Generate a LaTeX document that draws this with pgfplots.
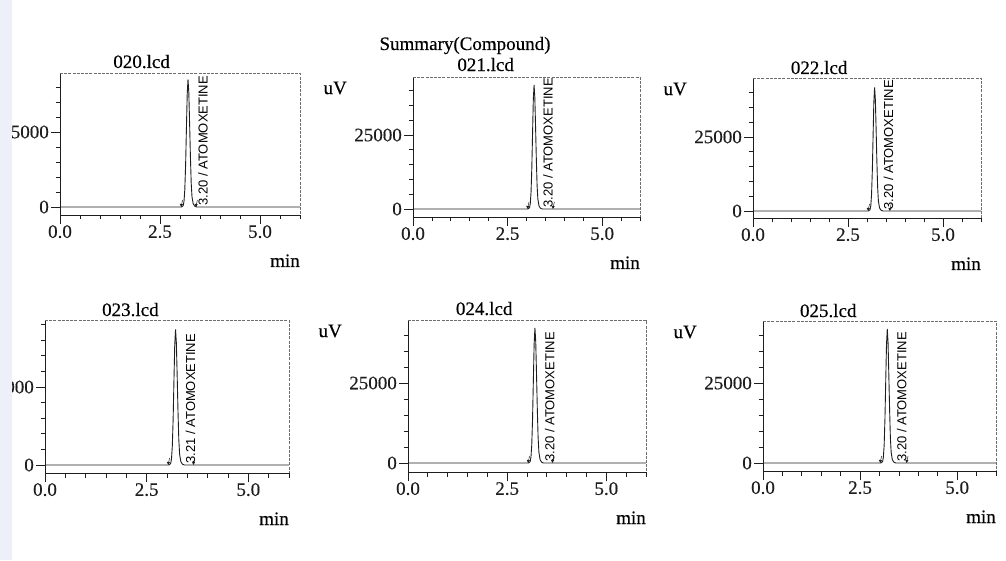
\documentclass[border=0pt]{standalone}
\usepackage{fontspec}
\setmainfont{Liberation Serif}[FakeBold=0.4]
\newfontfamily\annotfont{Liberation Sans}
\usepackage{pgfplots}
\pgfplotsset{compat=1.18}

\definecolor{scanink}{HTML}{1E1E1E}
\definecolor{framegray}{HTML}{6E6E6E}
\definecolor{sidebar}{HTML}{EDF0F8}

\newcommand\labfont{\fontsize{19}{19}\selectfont}
\newcommand\peakfont{\annotfont\fontsize{13}{13}\selectfont}

% small arrow marking the start / end of peak integration on the baseline
\pgfdeclareplotmark{peakarrow}{%
  \pgfpathmoveto{\pgfpoint{1.4pt}{7pt}}%
  \pgfpathlineto{\pgfpoint{0pt}{1pt}}%
  \pgfusepathqstroke
  \pgfpathmoveto{\pgfpoint{0pt}{0pt}}%
  \pgfpathlineto{\pgfpoint{-1.5pt}{3.2pt}}%
  \pgfpathlineto{\pgfpoint{1.7pt}{2.8pt}}%
  \pgfpathclose
  \pgfusepathqfill}

\pgfplotsset{
  every axis title shift=0pt,
  chrom/.style={
    scale only axis, anchor=south west, clip=false,
    xmin=0, xmax=6,
    scaled x ticks=false, scaled y ticks=false,
    axis x line*=bottom, axis y line*=left,
    axis line style={-, scanink, line width=0.8pt},
    tick align=outside,
    tick style={scanink, line width=0.7pt},
    major tick length=9pt, minor tick length=4.5pt,
    xtick={0,2.5,5}, xticklabels={0.0,2.5,5.0},
    minor xtick={0.5,1,1.5,2,3,3.5,4,4.5,5.5,6},
    xticklabel style={inner sep=1pt},
    yticklabel style={inner sep=2pt},
    tick label style={font=\labfont, text=scanink},
    xlabel={min},
    xlabel style={at={(rel axis cs:1,0)}, anchor=base east,
                  yshift=-52pt, inner sep=0pt, font=\labfont},
    title style={anchor=base, yshift=5pt, inner sep=0pt, font=\labfont},
  },
  small scale/.style={
    ytick={0,5000}, yticklabels={0,5000},
    minor ytick={1000,2000,3000,4000,6000,7000,8000,9000},
  },
  large scale/.style={
    ytick={0,25000}, yticklabels={0,25000},
    minor ytick={5000,10000,15000,20000,30000,35000,40000},
  },
  trace/.style={scanink, line width=0.9pt, mark=none},
  marks/.style={only marks, mark=peakarrow, scanink, line width=0.5pt},
}

% dashed top and right border of each chromatogram frame
\newcommand\frameedges{%
  \draw[framegray, dash pattern=on 3pt off 1.2pt, line width=0.6pt]
    (rel axis cs:0,1) -- (rel axis cs:1,1) -- (rel axis cs:1,0);}
\newcommand\uvlabel{%
  \node[anchor=east, font=\labfont, inner sep=0pt]
    at (rel axis cs:0,1) [xshift=-66pt, yshift=-11pt] {uV};}

\begin{document}
\begin{tikzpicture}
\path[use as bounding box] (0pt,0pt) rectangle (1006pt,560pt);

\node[anchor=base, font=\labfont, inner sep=0pt] at (465pt,510pt) {Summary(Compound)};

% ---------------- 020.lcd ----------------
\begin{axis}[chrom, small scale, at={(60pt,345pt)}, width=240pt, height=142pt,
  ymin=-533, ymax=8930, title={020.lcd},
  title style={at={(rel axis cs:0.34,1)}}]
\frameedges
\addplot[trace] coordinates {(0,0) (3.04,0) (3.08,94) (3.10,374) (3.12,1148)
  (3.14,2763) (3.16,5160) (3.18,7497) (3.20,8500) (3.22,7650) (3.24,5610)
  (3.26,3400) (3.28,1615) (3.30,680) (3.33,213) (3.37,51) (3.42,0) (6,0)};
\addplot[marks] coordinates {(3.03,0) (3.40,0)};
\node[rotate=90, anchor=base west, font=\peakfont, inner sep=0pt]
  at (axis cs:3.69,80) {3.20 / ATOMOXETINE};
\end{axis}

% ---------------- 021.lcd ----------------
\begin{axis}[chrom, large scale, at={(413pt,343pt)}, width=227pt, height=140pt,
  ymin=-2700, ymax=44600, title={021.lcd},
  title style={at={(rel axis cs:0.32,1)}, yshift=1pt}]
\frameedges
\uvlabel
\addplot[trace] coordinates {(0,0) (3.04,0) (3.08,461) (3.10,1844) (3.12,5657)
  (3.14,13618) (3.16,25433) (3.18,36956) (3.20,41900) (3.22,37710) (3.24,27654)
  (3.26,16760) (3.28,7961) (3.30,3352) (3.33,1048) (3.37,251) (3.42,0) (6,0)};
\addplot[marks] coordinates {(3.03,0) (3.70,0)};
\node[rotate=90, anchor=base west, font=\peakfont, inner sep=0pt]
  at (axis cs:3.69,350) {3.20 / ATOMOXETINE};
\end{axis}

% ---------------- 022.lcd ----------------
\begin{axis}[chrom, large scale, at={(753pt,342pt)}, width=228pt, height=140pt,
  ymin=-2360, ymax=44900, title={022.lcd},
  title style={at={(rel axis cs:0.29,1)}, yshift=-1pt}]
\frameedges
\uvlabel
\addplot[trace] coordinates {(0,0) (3.04,0) (3.08,459) (3.10,1835) (3.12,5630)
  (3.14,13553) (3.16,25312) (3.18,36779) (3.20,41700) (3.22,37530) (3.24,27522)
  (3.26,16680) (3.28,7923) (3.30,3336) (3.33,1043) (3.37,250) (3.42,0) (6,0)};
\addplot[marks] coordinates {(3.03,0) (3.60,0)};
\node[rotate=90, anchor=base west, font=\peakfont, inner sep=0pt]
  at (axis cs:3.69,350) {3.20 / ATOMOXETINE};
\end{axis}

% ---------------- 023.lcd ----------------
\begin{axis}[chrom, small scale, at={(45pt,87pt)}, width=244pt, height=153pt,
  ymin=-513, ymax=9295, title={023.lcd},
  title style={at={(rel axis cs:0.35,1)}, yshift=-1pt}]
\frameedges
\addplot[trace] coordinates {(0,0) (3.05,0) (3.09,96) (3.11,383) (3.13,1175)
  (3.15,2828) (3.17,5281) (3.19,7673) (3.21,8700) (3.23,7830) (3.25,5742)
  (3.27,3480) (3.29,1653) (3.31,696) (3.34,218) (3.38,52) (3.43,0) (6,0)};
\addplot[marks] coordinates {(3.03,0) (3.65,0)};
\node[rotate=90, anchor=base west, font=\peakfont, inner sep=0pt]
  at (axis cs:3.69,80) {3.21 / ATOMOXETINE};
\end{axis}

% ---------------- 024.lcd ----------------
\begin{axis}[chrom, large scale, at={(408pt,88pt)}, width=238pt, height=152pt,
  ymin=-2800, ymax=44700, title={024.lcd},
  title style={at={(rel axis cs:0.32,1)}}]
\frameedges
\uvlabel
\addplot[trace] coordinates {(0,0) (3.04,0) (3.08,464) (3.10,1857) (3.12,5697)
  (3.14,13715) (3.16,25615) (3.18,37220) (3.20,42200) (3.22,37980) (3.24,27852)
  (3.26,16880) (3.28,8018) (3.30,3376) (3.33,1055) (3.37,253) (3.42,0) (6,0)};
\addplot[marks] coordinates {(3.03,0) (3.64,0)};
\node[rotate=90, anchor=base west, font=\peakfont, inner sep=0pt]
  at (axis cs:3.69,350) {3.20 / ATOMOXETINE};
\end{axis}

% ---------------- 025.lcd ----------------
\begin{axis}[chrom, large scale, at={(763pt,89pt)}, width=233pt, height=150pt,
  ymin=-2500, ymax=44400, title={025.lcd},
  title style={at={(rel axis cs:0.28,1)}, yshift=-1pt}]
\frameedges
\uvlabel
\addplot[trace] coordinates {(0,0) (3.04,0) (3.08,461) (3.10,1844) (3.12,5657)
  (3.14,13618) (3.16,25433) (3.18,36956) (3.20,41900) (3.22,37710) (3.24,27654)
  (3.26,16760) (3.28,7961) (3.30,3352) (3.33,1048) (3.37,251) (3.42,0) (6,0)};
\addplot[marks] coordinates {(3.02,0) (3.70,0)};
\node[rotate=90, anchor=base west, font=\peakfont, inner sep=0pt]
  at (axis cs:3.69,350) {3.20 / ATOMOXETINE};
\end{axis}

% pale strip along the left edge of the sheet
\fill[sidebar] (0pt,0pt) rectangle (12pt,560pt);
\end{tikzpicture}
\end{document}
